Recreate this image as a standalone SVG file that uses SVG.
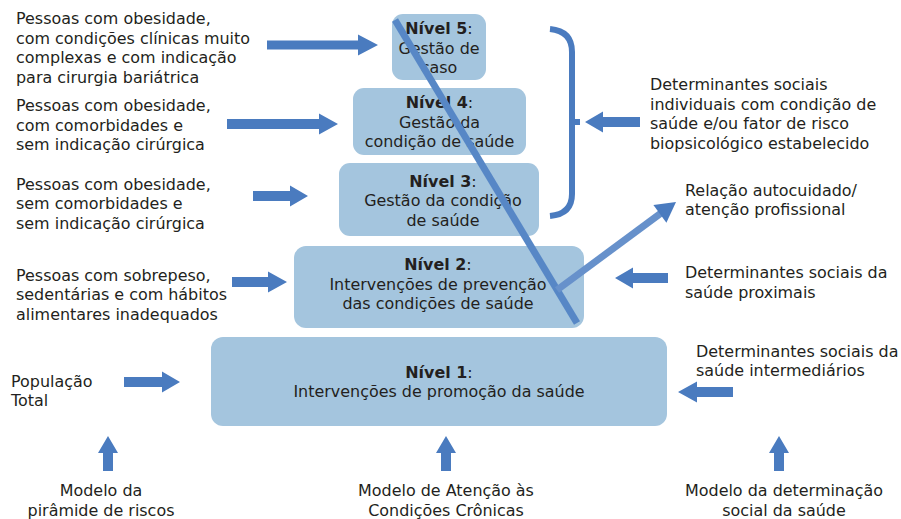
<svg xmlns="http://www.w3.org/2000/svg" width="901" height="519" viewBox="0 0 901 519">
<style>
text{font-family:"DejaVu Sans","Liberation Sans",sans-serif;font-size:15.95px;fill:#231f20}
.c{text-anchor:middle}
.b{font-weight:bold}
.box{fill:#a4c5de}
.arr{fill:#4a7bbf}
</style>
<rect width="901" height="519" fill="#fff"/>
<g id="n1"><rect class="box" x="211" y="337" width="456" height="89" rx="12"/>
<text class="c" x="439" y="377.5"><tspan class="b">Nível 1</tspan>:</text>
<text class="c" x="439" y="397">Intervenções de promoção da saúde</text></g>
<g id="n2"><rect class="box" x="294" y="246" width="290" height="82" rx="12"/>
<text class="c" x="438" y="269.5"><tspan class="b">Nível 2</tspan>:</text>
<text class="c" x="438" y="289.5">Intervenções de prevenção</text>
<text class="c" x="438" y="309">das condições de saúde</text></g>
<g id="n3"><rect class="box" x="339" y="163" width="200" height="73" rx="11"/>
<text class="c" x="443" y="186.5"><tspan class="b">Nível 3</tspan>:</text>
<text class="c" x="443" y="206">Gestão da condição</text>
<text class="c" x="443" y="225.5">de saúde</text></g>
<g id="n4"><rect class="box" x="353" y="88" width="173" height="67" rx="11"/>
<text class="c" x="439.5" y="108"><tspan class="b">Nível 4</tspan>:</text>
<text class="c" x="439.5" y="127.5">Gestão da</text>
<text class="c" x="439.5" y="147">condição de saúde</text></g>
<g id="n5"><rect class="box" x="392" y="14" width="94" height="66" rx="11"/>
<text class="c" x="439" y="34"><tspan class="b">Nível 5</tspan>:</text>
<text class="c" x="439" y="53.5">Gestão de</text>
<text class="c" x="439" y="73">caso</text></g>
<g id="labels">
<text x="16" y="24">Pessoas com obesidade,</text>
<text x="16" y="43.7">com condições clínicas muito</text>
<text x="16" y="63.4">complexas e com indicação</text>
<text x="16" y="83">para cirurgia bariátrica</text>
<text x="16" y="111">Pessoas com obesidade,</text>
<text x="16" y="130.5">com comorbidades e</text>
<text x="16" y="150">sem indicação cirúrgica</text>
<text x="16" y="189.5">Pessoas com obesidade,</text>
<text x="16" y="209">sem comorbidades e</text>
<text x="16" y="228.5">sem indicação cirúrgica</text>
<text x="16" y="280.5">Pessoas com sobrepeso,</text>
<text x="16" y="300">sedentárias e com hábitos</text>
<text x="16" y="319.5">alimentares inadequados</text>
<text x="11" y="386.5">População</text>
<text x="11" y="406">Total</text>
<text x="650" y="90">Determinantes sociais</text>
<text x="650" y="109.5">individuais com condição de</text>
<text x="650" y="129">saúde e/ou fator de risco</text>
<text x="650" y="148.5">biopsicológico estabelecido</text>
<text x="685" y="195.5">Relação autocuidado/</text>
<text x="685" y="215">atenção profissional</text>
<text x="685" y="278">Determinantes sociais da</text>
<text x="685" y="297.5">saúde proximais</text>
<text x="696" y="356.5">Determinantes sociais da</text>
<text x="696" y="376">saúde intermediários</text>
<text class="c" x="101" y="496">Modelo da</text>
<text class="c" x="101" y="515.5">pirâmide de riscos</text>
<text class="c" x="446" y="496">Modelo de Atenção às</text>
<text class="c" x="446" y="515.5">Condições Crônicas</text>
<text class="c" x="784" y="496">Modelo da determinação</text>
<text class="c" x="784" y="515.5">social da saúde</text>
</g>
<g id="connectors">
<line x1="395" y1="20" x2="577" y2="323" stroke="#5787c6" stroke-width="7"/>
<path d="M550 29 Q572 31 572 52 V194 Q572 214 550 216 M572 122 H580" fill="none" stroke="#4a7bbf" stroke-width="6"/>
<line x1="557" y1="290" x2="662" y2="212.4" stroke="#6791cb" stroke-width="7"/>
<polygon class="arr" points="676,202 666.4,222.7 653.4,205.1"/>
<polygon class="arr" points="267,40.5 358,40.5 358,34.5 378,45 358,55.5 358,49.5 267,49.5"/>
<polygon class="arr" points="227,119 319,119 319,113.5 338,124 319,134.5 319,129 227,129"/>
<polygon class="arr" points="253,191 290,191 290,185.5 308,196 290,206.5 290,201 253,201"/>
<polygon class="arr" points="232,277 268,277 268,271.5 287,282 268,292.5 268,287 232,287"/>
<polygon class="arr" points="124,377 162,377 162,371.5 180,382 162,392.5 162,387 124,387"/>
<polygon class="arr" points="640,117 603,117 603,111.5 585,122 603,132.5 603,127 640,127"/>
<polygon class="arr" points="668,273 633,273 633,267.5 615,278 633,288.5 633,283 668,283"/>
<polygon class="arr" points="733,387 697,387 697,381.5 678,392 697,402.5 697,397 733,397"/>
<polygon class="arr" points="103,471 103,453 98,453 108,436 118,453 113,453 113,471"/>
<polygon class="arr" points="441,471 441,453 436,453 446,436 456,453 451,453 451,471"/>
<polygon class="arr" points="774,471 774,453 769,453 779,436 789,453 784,453 784,471"/>
</g>
</svg>
